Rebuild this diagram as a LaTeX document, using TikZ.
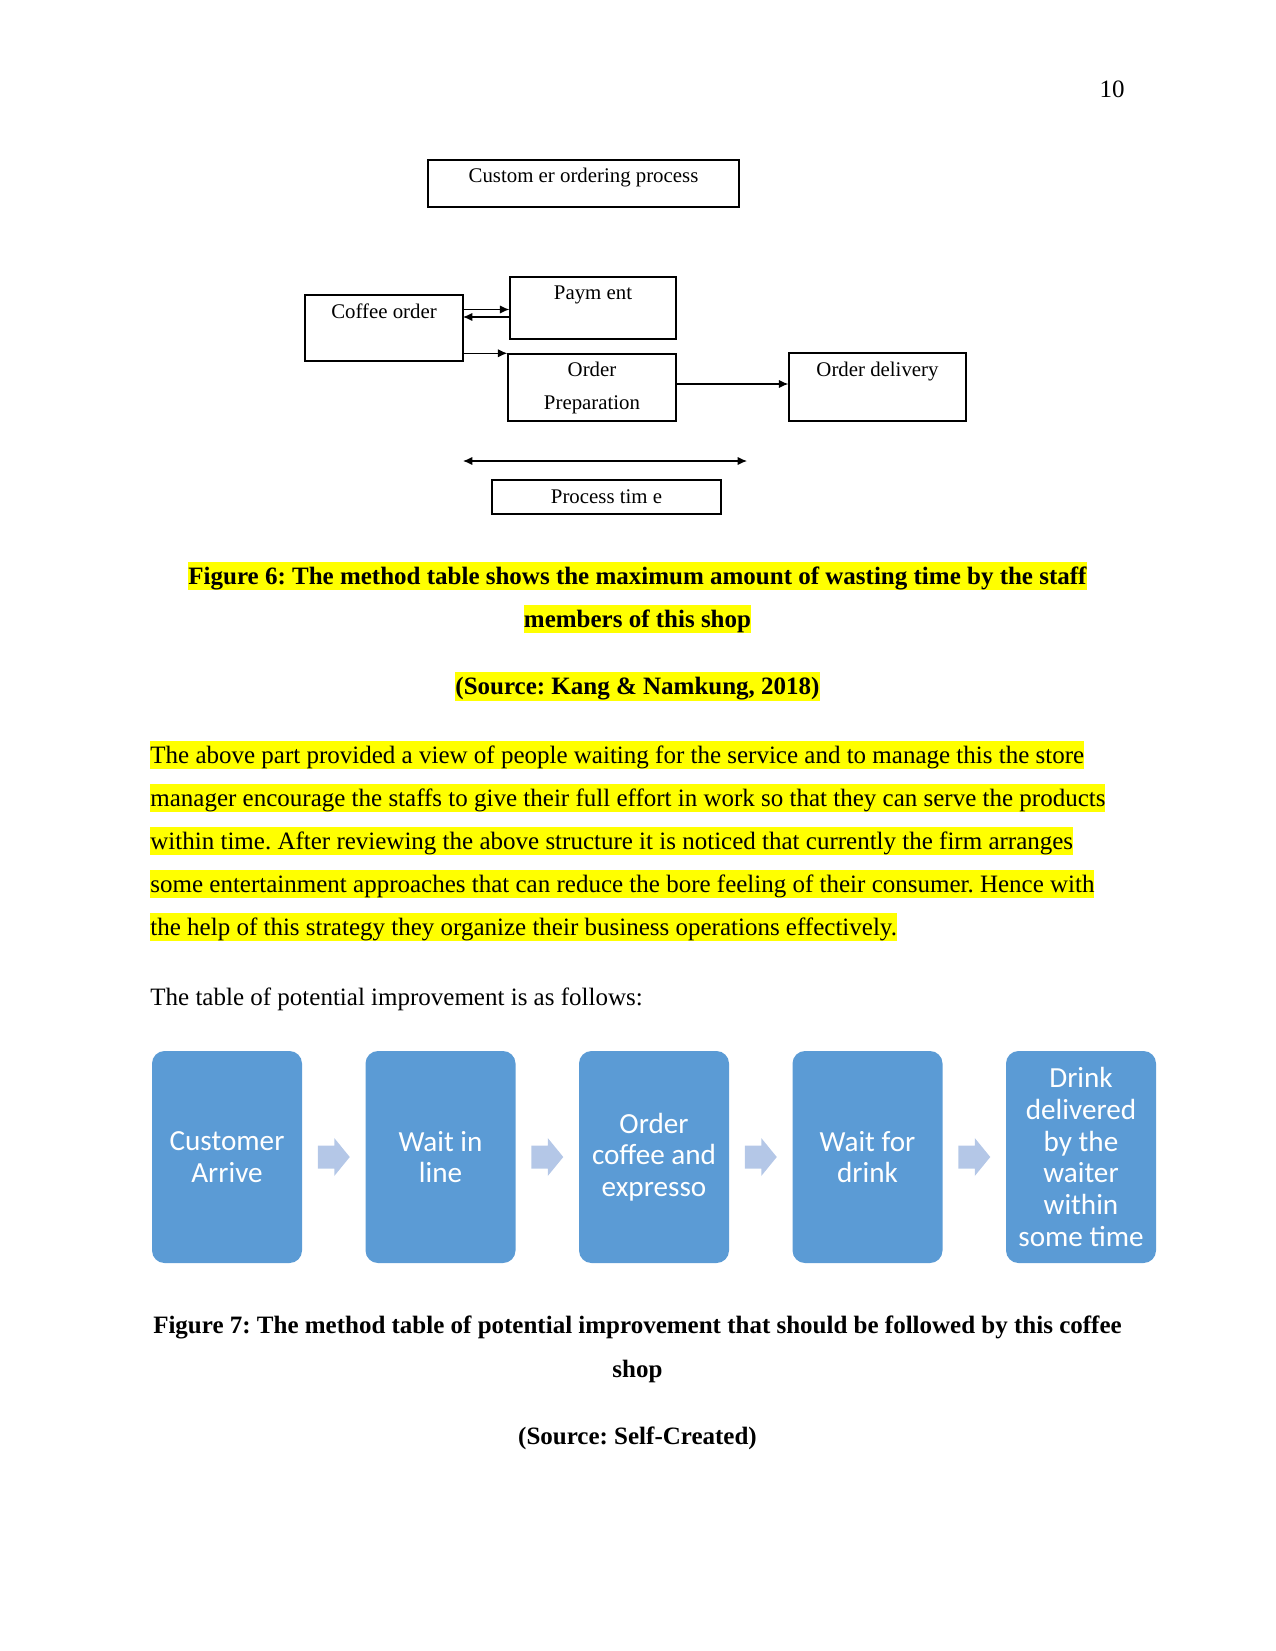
\documentclass[tikz,border=0pt]{standalone}
\usepackage{fontspec}
\setmainfont{Liberation Serif}
\setsansfont{Carlito}
\usepackage{xcolor}
\usepackage{tikz}
\usetikzlibrary{arrows.meta, positioning, calc}

\definecolor{smartblue}{HTML}{5B9BD5}
\definecolor{chevblue}{HTML}{B4C7E7}
\definecolor{hlyellow}{HTML}{FFFF00}

\newdimen\px
\px=0.48pt

\tikzset{
  pbox/.style={draw, line width=0.7pt, inner sep=0pt},
  ptext/.style={font=\fontsize{10}{12}\selectfont, inner sep=0pt},
  flow/.style={-{Latex[length=4.5pt,width=4pt]}, line width=0.6pt},
  stepbox/.style={fill=smartblue, rounded corners=6pt, minimum width=150\px,
    minimum height=212\px, text=white, align=center, inner sep=0pt,
    font=\sffamily\fontsize{14}{15.2}\selectfont},
  chev/.style={fill=chevblue},
  bodyline/.style={anchor=base west, inner sep=0pt, font=\fontsize{12}{14}\selectfont},
  hl/.style={fill=hlyellow, text height=10.6pt, text depth=2.9pt},
  capline/.style={anchor=base, inner sep=0pt, font=\bfseries\fontsize{12}{14}\selectfont},
}

\begin{document}
\frenchspacing
\begin{tikzpicture}[x=0.48pt, y=-0.48pt]
  \useasboundingbox (0,0) rectangle (1275,1651);

  %% page number
  \node[bodyline, anchor=base east] (pgnum) at (1125,98) {10};

  %% Customer ordering process
  \node[pbox, minimum width=311\px, minimum height=47\px,
    label={[ptext, anchor=base, yshift=-23\px]north:Custom er ordering process}]
    (title) at (583.5,183.5) {};
  \node[pbox, minimum width=158\px, minimum height=66\px,
    label={[ptext, anchor=base, yshift=-24\px]north:Coffee order}]
    (cof) at (384,328) {};
  \node[pbox, minimum width=166\px, minimum height=62\px,
    label={[ptext, anchor=base, yshift=-23\px]north:Paym ent}]
    (pay) at (593,308) {};
  \node[pbox, minimum width=168\px, minimum height=67\px,
    label={[ptext, anchor=base, yshift=-23\px]north:Order},
    label={[ptext, anchor=base, yshift=-56\px]north:Preparation}]
    (prep) at (592,387.5) {};
  \node[pbox, minimum width=177\px, minimum height=68\px,
    label={[ptext, anchor=base, yshift=-24\px]north:Order delivery}]
    (del) at (877.5,387) {};
  \node[pbox, ptext, minimum width=229\px, minimum height=34\px]
    (ptime) at (606.5,497) {Process tim e};

  \coordinate (cofA) at (463,309.5);
  \coordinate (cofB) at (463,317);
  \coordinate (prepR) at ([yshift=3.5\px]prep.east);
  \draw[flow] (cofA) -- (cofA -| pay.west);
  \draw[flow] (cofB -| pay.west) -- (cofB);
  \draw[flow] (cof.east |- prep.north west) -- (prep.north west);
  \draw[flow] (prepR) -- (prepR -| del.west);

  %% process time span
  \coordinate (spanL) at (463,461);
  \coordinate (spanR) at (747,461);
  \draw[{Latex[length=4.5pt,width=4pt]}-{Latex[length=4.5pt,width=4pt]}, line width=0.6pt]
    (spanL) -- (spanR);

  %% Figure 6 caption
  \node[capline, hl] (cap6a) at (637.5,584)
    {Figure 6: The method table shows the maximum amount of wasting time by the staff};
  \node[capline, hl] (cap6b) at (637.5,627) {members of this shop};
  \node[capline, hl] (src6) at (637.5,694.5) {(Source: Kang \& Namkung, 2018)};

  %% paragraph
  \node[bodyline, hl] (para1) at (150,763)
    {The above part provided a view of people waiting for the service and to manage this the store};
  \node[bodyline, hl] (para2) at (150,806)
    {manager encourage the staffs to give their full effort in work so that they can serve the products};
  \node[bodyline, hl] (para3) at (150,849)
    {within time. After reviewing the above structure it is noticed that currently the firm arranges};
  \node[bodyline, hl] (para4) at (150,892)
    {some entertainment approaches that can reduce the bore feeling of their consumer. Hence with};
  \node[bodyline, hl] (para5) at (150,935)
    {the help of this strategy they organize their business operations effectively.};

  \node[bodyline] (intro) at (150,1005) {The table of potential improvement is as follows:};

  %% potential improvement steps
  \node[stepbox] (s1) at (227,1157) {Customer\\Arrive};
  \node[stepbox] (s2) at (440.5,1157) {Wait in\\line};
  \node[stepbox] (s3) at (654,1157) {Order\\coffee and\\expresso};
  \node[stepbox] (s4) at (867.5,1157) {Wait for\\drink};
  \node[stepbox] (s5) at (1081,1157) {Drink\\delivered\\by the\\waiter\\within\\some time};

  \foreach \a/\b in {s1/s2, s2/s3, s3/s4, s4/s5}
    \fill[chev] ($(\a.east)!0.5!(\b.west)$) ++(-16,-11.5) -- ++(16.5,0) -- ++(0,-7.5)
      -- ++(15.5,19) -- ++(-15.5,19) -- ++(0,-7.5) -- ++(-16.5,0) -- cycle;

  %% Figure 7 caption
  \node[capline] (cap7a) at (637.5,1333.5)
    {Figure 7: The method table of potential improvement that should be followed by this coffee};
  \node[capline] (cap7b) at (637.5,1377) {shop};
  \node[capline] (src7) at (637.5,1444) {(Source: Self-Created)};
\end{tikzpicture}
\end{document}
